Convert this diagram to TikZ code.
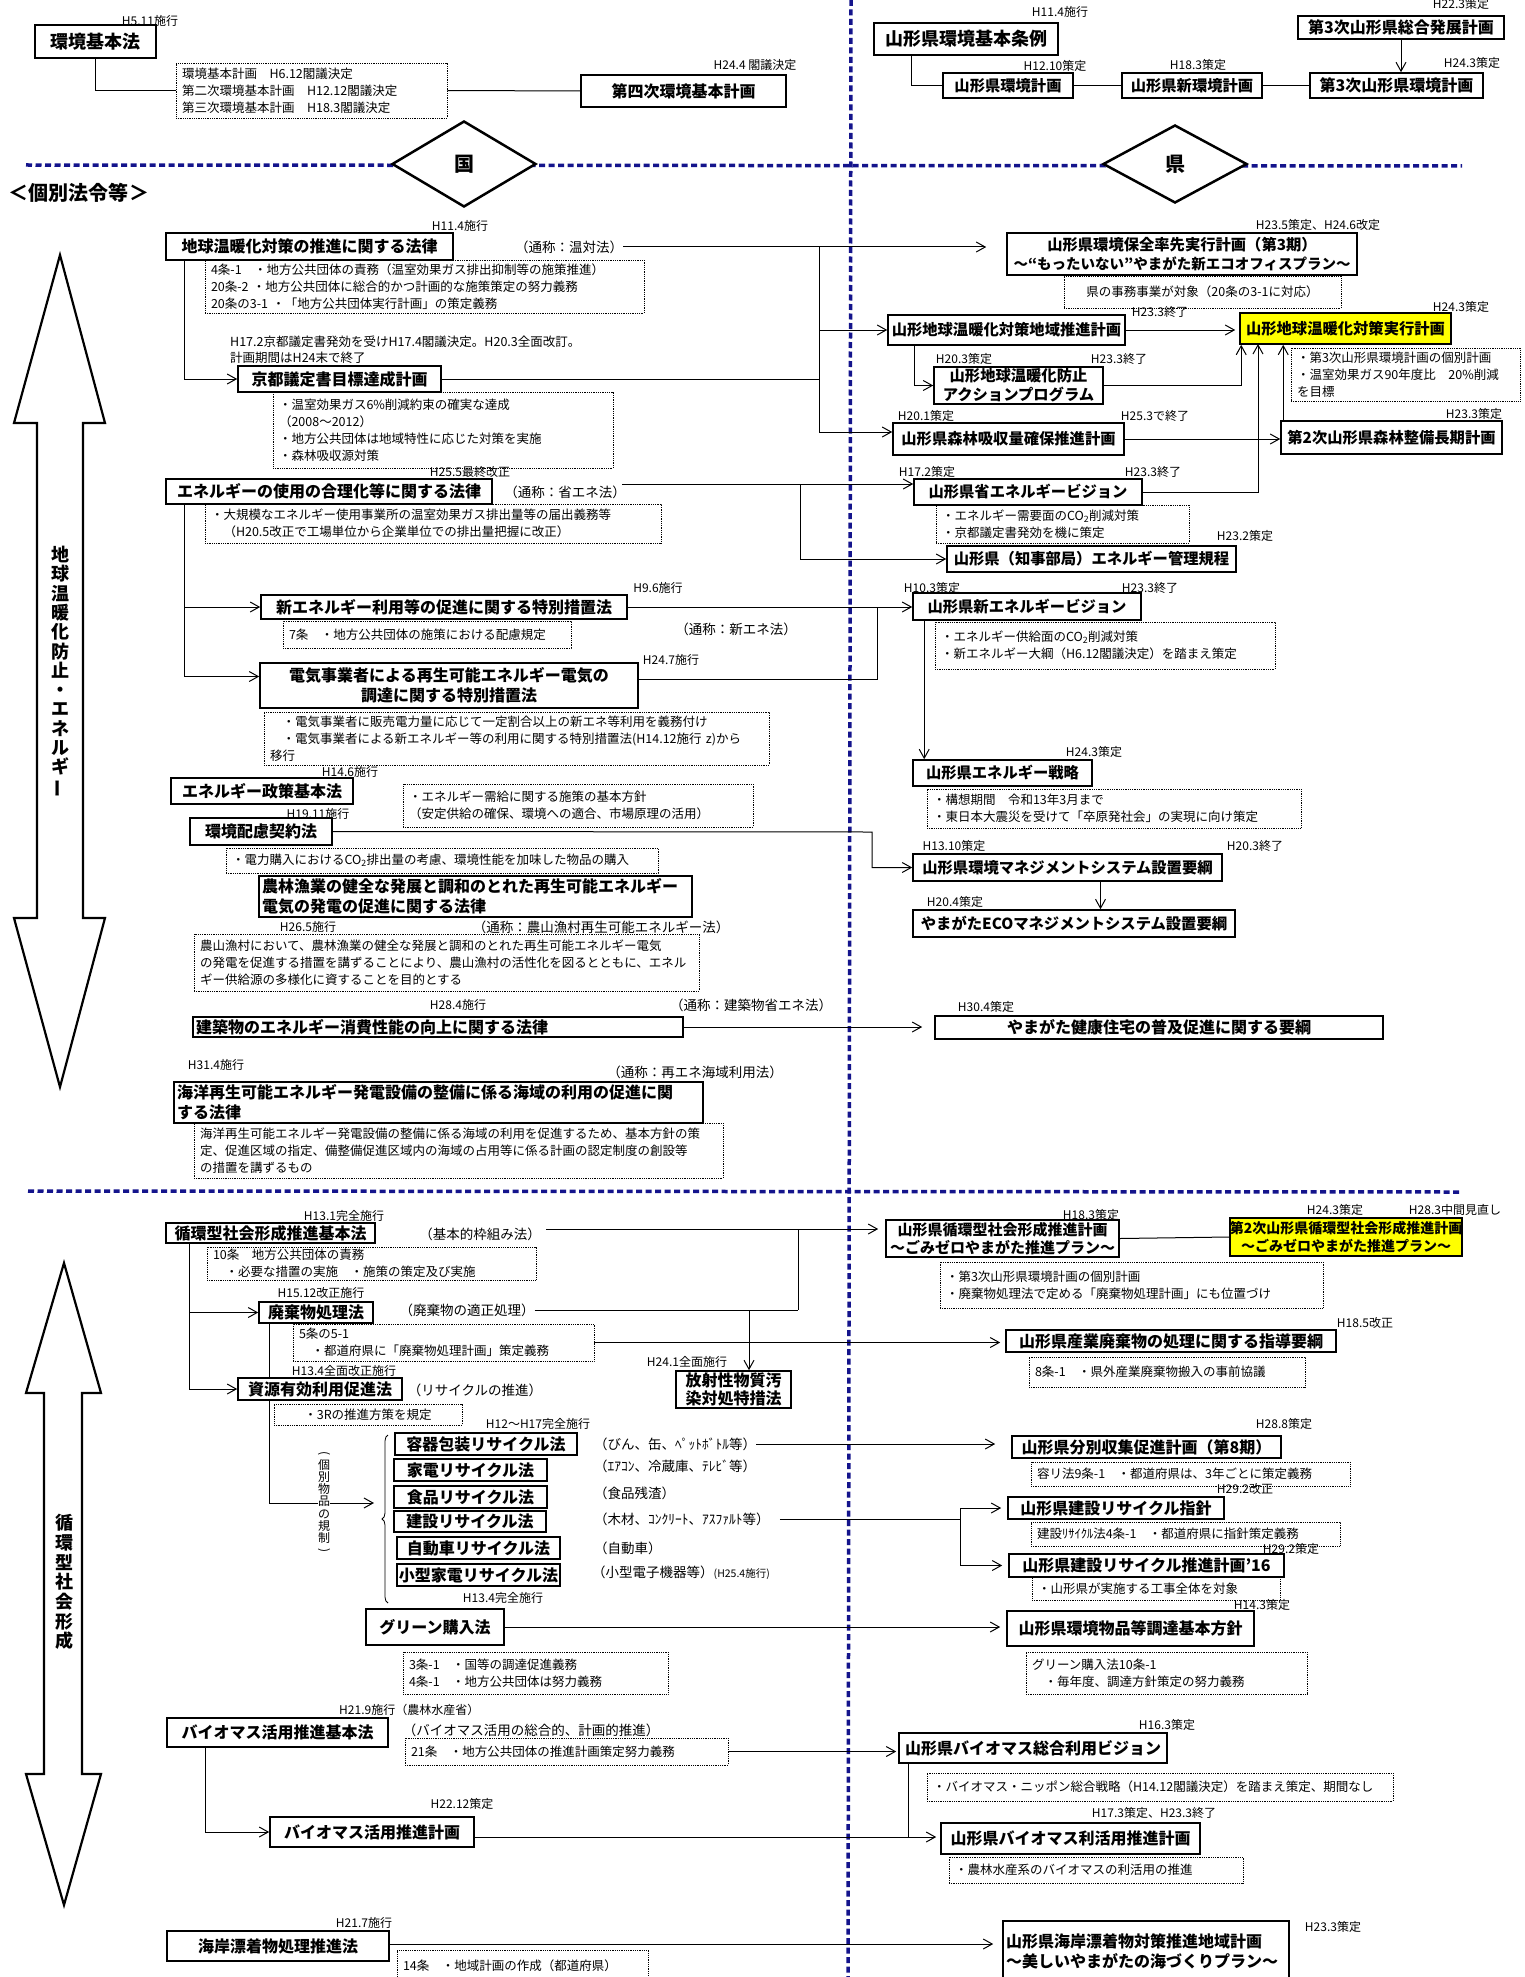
\documentclass[tikz,border=0pt]{standalone}
\usepackage{fontspec}
\usepackage{graphicx}
\setmainfont{Noto Sans CJK JP}
\usetikzlibrary{arrows.meta,shapes.geometric,decorations.pathreplacing}
\definecolor{navy}{RGB}{20,20,140}
\definecolor{yel}{RGB}{255,255,0}
\tikzset{
 box/.style={draw, line width=1.6pt, fill=white, inner sep=0pt, align=center, font=\bfseries\fontsize{16}{20}\selectfont},
 boxr/.style={font=\bfseries\fontsize{15.3}{19}\selectfont},
 notebox/.style={draw, densely dotted, line width=0.8pt, inner xsep=6pt, inner ysep=0pt, align=left, font=\fontsize{12.5}{17}\selectfont},
 lbl/.style={inner sep=0pt, font=\fontsize{12}{14}\selectfont},
 paren/.style={inner sep=0pt, font=\fontsize{13.5}{16}\selectfont},
 ln/.style={line width=1pt},
 arr/.style={line width=1pt, -{Straight Barb[length=9pt,width=10pt]}},
 bluesep/.style={navy, line width=3.5pt, dash pattern=on 6pt off 3.5pt},
 dia/.style={diamond, draw, line width=2.5pt, fill=white, inner sep=0pt, font=\bfseries\fontsize{20}{24}\selectfont},
 bigarrow/.style={draw, line width=2.2pt, fill=white, line join=miter},
 vtext/.style={inner sep=0pt, align=center, font=\bfseries\fontsize{18}{19.3}\selectfont},
}
\newcommand\mkbox[7][]{%
  \pgfmathsetmacro\bxw{#5-#3}\pgfmathsetmacro\bxh{#6-#4}%
  \pgfmathsetmacro\bxcx{(#3+#5)/2}\pgfmathsetmacro\bxcy{(#4+#6)/2}%
  \node[box,minimum width=\bxw pt,minimum height=\bxh pt,#1] (#2) at (\bxcx,\bxcy) {#7};}
\newcommand\mknote[7][]{%
  \pgfmathsetmacro\bxw{#5-#3}\pgfmathsetmacro\bxh{#6-#4}%
  \pgfmathsetmacro\bxcx{(#3+#5)/2}\pgfmathsetmacro\bxcy{(#4+#6)/2}%
  \pgfmathsetmacro\bxtw{#5-#3-12}%
  \node[notebox,text width=\bxtw pt,minimum width=\bxw pt,minimum height=\bxh pt,#1] (#2) at (\bxcx,\bxcy) {#7};}
\begin{document}
\begin{tikzpicture}[x=1pt,y=-1pt]
\useasboundingbox (0,0) rectangle (1524,1977);
\fill[white] (0,0) rectangle (1524,1977);

% separators
\draw[bluesep] (26,165) -- (1462,166);
\draw[bluesep] (28,1191) -- (1462,1192);
\draw[bluesep] (851,0) -- (848,1977);
\node[dia, minimum width=144pt, minimum height=86pt] (kuni) at (464,164) {国};
\node[dia, minimum width=144pt, minimum height=78pt] (ken) at (1175,164) {県};

% big double arrows
\draw[bigarrow] (60,255) -- (105,423) -- (83,423) -- (83,918) -- (105,918) -- (60,1087) -- (14,918) -- (37,918) -- (37,423) -- (14,423) -- cycle;
\draw[bigarrow] (64,1263) -- (101,1393) -- (82,1393) -- (82,1774) -- (101,1774) -- (64,1905) -- (26,1774) -- (44,1774) -- (44,1393) -- (26,1393) -- cycle;
\node[vtext] (vt1) at (60,672) {地\\球\\温\\暖\\化\\防\\止\\・\\エ\\ネ\\ル\\ギ\\\rotatebox[origin=c]{90}{ー}};
\node[vtext, font=\bfseries\fontsize{18}{19.7}\selectfont] (vt2) at (64,1582) {循\\環\\型\\社\\会\\形\\成};
\node[inner sep=0pt, font=\bfseries\fontsize{20}{24}\selectfont] (kobetsuhou) at (79,193) {＜個別法令等＞};

% ===== top =====
\node[lbl] (d1) at (150,21) {H5.11施行};
\mkbox[font=\bfseries\fontsize{18}{22}\selectfont]{kihonho}{35}{25}{156}{58}{環境基本法}
\mknote{kk}{176}{63}{447}{118}{環境基本計画　H6.12閣議決定\\第二次環境基本計画　H12.12閣議決定\\第三次環境基本計画　H18.3閣議決定}
\mkbox{dai4}{581}{75}{786}{107}{第四次環境基本計画}
\node[lbl] (d2) at (755,65) {H24.4 閣議決定};
\draw[ln] (kihonho) |- (kk.west);
\draw[ln] (kk.east) -- (dai4.west);

\node[lbl] (d3) at (1060,12) {H11.4施行};
\mkbox[font=\bfseries\fontsize{18}{22}\selectfont]{jourei}{874}{23}{1058}{55}{山形県環境基本条例}
\node[lbl] (d4) at (1055,66) {H12.10策定};
\mkbox[boxr]{kplan}{943}{73}{1073}{98}{山形県環境計画}
\node[lbl] (d5) at (1198,65) {H18.3策定};
\mkbox[boxr]{shinplan}{1122}{73}{1262}{98}{山形県新環境計画}
\mkbox{dai3plan}{1310}{73}{1483}{98}{第3次山形県環境計画}
\node[lbl] (d6) at (1472,63) {H24.3策定};
\mkbox{sougou}{1298}{16}{1504}{39}{第3次山形県総合発展計画}
\node[lbl] (d7) at (1461,4) {H22.3策定};
\draw[ln] ([xshift=-55pt]jourei.south) |- (kplan.west);
\draw[ln] (kplan) -- (shinplan);
\draw[ln] (shinplan) -- (dai3plan);
\draw[arr] (sougou.south) -- (sougou.south |- dai3plan.north);

% ===== warming: national =====
\node[lbl] (d8) at (460,226) {H11.4施行};
\mkbox{ontai}{166}{233}{453}{260}{地球温暖化対策の推進に関する法律}
\node[paren] (ontaiL) at (569,247) {（通称：温対法）};
\mknote{ontaiN}{205}{260}{644}{313}{4条-1　・地方公共団体の責務（温室効果ガス排出抑制等の施策推進）\\20条-2 ・地方公共団体に総合的かつ計画的な施策策定の努力義務\\20条の3-1 ・「地方公共団体実行計画」の策定義務}
\node[lbl, anchor=west, align=left, font=\fontsize{12.5}{16}\selectfont] (kyotoT) at (230,350) {H17.2京都議定書発効を受けH17.4閣議決定。H20.3全面改訂。\\計画期間はH24末で終了};
\mkbox{kyoto}{238}{366}{441}{392}{京都議定書目標達成計画}
\mknote{kyotoN}{273}{392}{613}{468}{・温室効果ガス6\%削減約束の確実な達成\\（2008～2012）\\・地方公共団体は地域特性に応じた対策を実施\\・森林吸収源対策}
\draw[arr] ([xshift=19pt]ontai.south west) |- (kyoto.west);

\node[lbl] (d9) at (470,472) {H25.5最終改正};
\mkbox{shoene}{166}{479}{492}{504}{エネルギーの使用の合理化等に関する法律}
\node[paren] (shoeneL) at (565,492) {（通称：省エネ法）};
\mknote{shoeneN}{205}{504}{661}{543}{・大規模なエネルギー使用事業所の温室効果ガス排出量等の届出義務等\\　（H20.5改正で工場単位から企業単位での排出量把握に改正）}

\node[lbl] (d10) at (658,588) {H9.6施行};
\mkbox{shinene}{261}{595}{627}{619}{新エネルギー利用等の促進に関する特別措置法}
\mknote{shineneN}{283}{621}{571}{648}{7条　・地方公共団体の施策における配慮規定}
\node[paren] (shineneL) at (736,629) {（通称：新エネ法）};
\node[lbl] (d11) at (671,660) {H24.7施行};
\mkbox{denki}{260}{663}{638}{708}{電気事業者による再生可能エネルギー電気の\\調達に関する特別措置法}
\mknote{denkiN}{264}{712}{769}{765}{　・電気事業者に販売電力量に応じて一定割合以上の新エネ等利用を義務付け\\　・電気事業者による新エネルギー等の利用に関する特別措置法(H14.12施行 z)から\\移行}
\coordinate (st) at ([xshift=19pt]shoene.south west);
\draw[arr] (st) |- (shinene.west);
\draw[arr] (st) |- ([yshift=9pt]denki.west);

\node[lbl] (d12) at (350,772) {H14.6施行};
\mkbox{eseisaku}{171}{778}{353}{804}{エネルギー政策基本法}
\mknote{eseisakuN}{403}{784}{753}{827}{・エネルギー需給に関する施策の基本方針\\（安定供給の確保、環境への適合、市場原理の活用）}
\node[lbl] (d13) at (318,814) {H19.11施行};
\mkbox{hairyo}{190}{818}{332}{845}{環境配慮契約法}
\mknote{hairyoN}{226}{848}{658}{873}{・電力購入におけるCO\textsubscript{2}排出量の考慮、環境性能を加味した物品の購入}
\mkbox[align=left,text width=427pt]{nourin}{259}{876}{692}{917}{農林漁業の健全な発展と調和のとれた再生可能エネルギー\\電気の発電の促進に関する法律}
\node[lbl] (d14) at (308,927) {H26.5施行};
\node[paren] (nourinL) at (601,927) {（通称：農山漁村再生可能エネルギー法）};
\mknote{nourinN}{194}{934}{699}{991}{農山漁村において、農林漁業の健全な発展と調和のとれた再生可能エネルギー電気\\の発電を促進する措置を講ずることにより、農山漁村の活性化を図るとともに、エネル\\ギー供給源の多様化に資することを目的とする}
\node[lbl] (d15) at (458,1005) {H28.4施行};
\node[paren] (kenchikuL) at (751,1005) {（通称：建築物省エネ法）};
\mkbox[align=left,text width=484pt]{kenchiku}{193}{1017}{683}{1037}{建築物のエネルギー消費性能の向上に関する法律}
\node[lbl] (d16) at (216,1065) {H31.4施行};
\node[paren] (kaiyoL) at (695,1072) {（通称：再エネ海域利用法）};
\mkbox[align=left,text width=523pt]{kaiyo}{174}{1082}{703}{1123}{海洋再生可能エネルギー発電設備の整備に係る海域の利用の促進に関\\する法律}
\mknote[inner xsep=3pt]{kaiyoN}{194}{1123}{723}{1178}{海洋再生可能エネルギー発電設備の整備に係る海域の利用を促進するため、基本方針の策\\定、促進区域の指定、備整備促進区域内の海域の占用等に係る計画の認定制度の創設等\\の措置を講ずるもの}

% ===== warming: prefecture =====
\node[lbl] (d17) at (1318,225) {H23.5策定、H24.6改定};
\mkbox[boxr]{sossen}{1007}{233}{1357}{275}{山形県環境保全率先実行計画（第3期）\\{\fontsize{14.5}{18}\selectfont ～“もったいない”やまがた新エコオフィスプラン～}}
\mknote[align=center]{sossenN}{1064}{276}{1341}{308}{県の事務事業が対象（20条の3-1に対応）}
\draw[arr,shorten >=20pt] (ontaiL.east) -- (ontaiL.east -| sossen.west);
\coordinate (t1) at (819,247);
\coordinate (t2) at (819,432);
\draw[ln] (t1) -- (t2);
\draw[ln] (kyoto.east) -- (kyoto.east -| t1);
\node[lbl] (d18) at (1160,312) {H23.3終了};
\mkbox[boxr]{chiiki}{888}{315}{1125}{345}{山形地球温暖化対策地域推進計画}
\draw[arr] (t1 |- chiiki.west) -- (chiiki.west);
\node[lbl] (d19) at (1461,307) {H24.3策定};
\mkbox[boxr,fill=yel]{jikko}{1240}{313}{1451}{344}{山形地球温暖化対策実行計画}
\draw[arr,shorten >=4pt] (chiiki.east) -- (chiiki.east -| jikko.west);
\mknote{jikkoN}{1291}{348}{1520}{401}{・第3次山形県環境計画の個別計画\\・温室効果ガス90年度比　20\%削減\\を目標}
\node[lbl] (d20) at (964,359) {H20.3策定};
\node[lbl] (d21) at (1119,359) {H23.3終了};
\mkbox[boxr]{action}{934}{367}{1103}{404}{山形地球温暖化防止\\アクションプログラム}
\draw[arr] ([xshift=27pt]chiiki.south west) |- (action.west);
\draw[arr] (action.east) -| ([xshift=2pt]jikko.south west);
\node[lbl] (d22) at (926,416) {H20.1策定};
\node[lbl] (d23) at (1155,416) {H25.3で終了};
\mkbox[boxr]{shinrin}{893}{423}{1124}{455}{山形県森林吸収量確保推進計画}
\draw[arr] (t2) -- (t2 -| shinrin.west);
\node[lbl] (d24) at (1474,414) {H23.3策定};
\mkbox[boxr]{seibi}{1281}{421}{1502}{454}{第2次山形県森林整備長期計画}
\draw[arr] (shinrin.east) -- (shinrin.east -| seibi.west);
\coordinate (sb) at ([xshift=3pt]seibi.north west);
\draw[arr] (sb) -- (sb |- jikko.south);

\node[lbl] (d25) at (927,472) {H17.2策定};
\node[lbl] (d26) at (1153,472) {H23.3終了};
\mkbox[boxr]{sev}{914}{479}{1142}{505}{山形県省エネルギービジョン}
\mknote{sevN}{936}{505}{1189}{543}{・エネルギー需要面のCO\textsubscript{2}削減対策\\・京都議定書発効を機に策定}
\coordinate (sv) at (1258,344);
\draw[arr] (sev.east) -| (sv);
\node[lbl] (d27) at (1245,536) {H23.2策定};
\mkbox[boxr]{kanri}{947}{546}{1236}{572}{山形県（知事部局）エネルギー管理規程}
\coordinate (s1) at (622,484);
\coordinate (s2) at (800,484);
\draw[arr] (s1) -- (s1 -| sev.west);
\draw[arr] (s2) |- (kanri.west);

\node[lbl] (d28) at (932,588) {H10.3策定};
\node[lbl] (d29) at (1150,588) {H23.3終了};
\mkbox[boxr]{snv}{913}{593}{1141}{620}{山形県新エネルギービジョン}
\mknote{snvN}{935}{622}{1275}{669}{・エネルギー供給面のCO\textsubscript{2}削減対策\\・新エネルギー大綱（H6.12閣議決定）を踏まえ策定}
\draw[arr] (shinene.east) -- (shinene.east -| snv.west);
\coordinate (dj) at (877,607);
\draw[ln] ([yshift=6pt]denki.east) -| (dj);
\node[lbl] (d30) at (1094,752) {H24.3策定};
\mkbox[boxr]{senryaku}{913}{760}{1092}{786}{山形県エネルギー戦略}
\mknote{senryakuN}{927}{789}{1301}{828}{・構想期間　令和13年3月まで\\・東日本大震災を受けて「卒原発社会」の実現に向け策定}
\coordinate (sn) at ([xshift=12pt]snv.south west);
\draw[arr] (sn) -- (sn |- senryaku.north);
\coordinate (hj) at (872,832);
\node[lbl] (d31) at (954,846) {H13.10策定};
\node[lbl] (d32) at (1255,846) {H20.3終了};
\mkbox[boxr]{ems}{913}{854}{1222}{881}{山形県環境マネジメントシステム設置要綱}
\draw[arr] (hairyo.east) -- (hj) |- (ems.west);
\node[lbl] (d33) at (955,902) {H20.4策定};
\mkbox[boxr]{eco}{913}{910}{1235}{937}{やまがたECOマネジメントシステム設置要綱}
\coordinate (em) at ([xshift=33pt]ems.south);
\draw[arr] (em) -- (em |- eco.north);
\node[lbl] (d34) at (986,1007) {H30.4策定};
\mkbox{kenko}{935}{1016}{1383}{1039}{やまがた健康住宅の普及促進に関する要綱}
\draw[arr,shorten >=12pt] (kenchiku.east) -- (kenchiku.east -| kenko.west);

% ===== junkan =====
\node[lbl] (d35) at (344,1216) {H13.1完全施行};
\mkbox{junkan}{166}{1223}{375}{1243}{循環型社会形成推進基本法}
\node[paren] (junkanL) at (480,1234) {（基本的枠組み法）};
\mknote{junkanN}{207}{1247}{536}{1280}{10条　地方公共団体の責務\\　・必要な措置の実施　・施策の策定及び実施}
\node[lbl] (d36) at (1091,1215) {H18.3策定};
\mkbox[font=\bfseries\fontsize{15}{18.5}\selectfont]{jplan}{886}{1220}{1119}{1257}{山形県循環型社会形成推進計画\\～ごみゼロやまがた推進プラン～}
\node[lbl] (d37) at (1335,1210) {H24.3策定};
\node[lbl] (d38) at (1455,1210) {H28.3中間見直し};
\mkbox[fill=yel,font=\bfseries\fontsize{14}{18}\selectfont]{jplan2}{1230}{1218}{1462}{1256}{第2次山形県循環型社会形成推進計画\\～ごみゼロやまがた推進プラン～}
\draw[ln] (jplan.east) -- (jplan2.west);
\mknote{jplanN}{940}{1262}{1323}{1308}{・第3次山形県環境計画の個別計画\\・廃棄物処理法で定める「廃棄物処理計画」にも位置づけ}
\coordinate (j1) at (546,1229);
\coordinate (j2) at (798,1229);
\coordinate (j3) at (798,1310);
\coordinate (j4) at (749,1310);
\draw[arr,shorten >=7pt] (j1) -- (j1 -| jplan.west);

\node[lbl] (d39) at (321,1293) {H15.12改正施行};
\mkbox{haiki}{259}{1302}{373}{1323}{廃棄物処理法}
\node[paren] (haikiL) at (467,1310) {（廃棄物の適正処理）};
\mknote{haikiN}{293}{1324}{594}{1361}{5条の5-1\\　・都道府県に「廃棄物処理計画」策定義務}
\draw[ln] (j2) -- (j3);
\draw[ln] (haikiL.east) -- (j3);
\node[lbl] (d40) at (1365,1323) {H18.5改正};
\mkbox{sanpai}{1006}{1330}{1336}{1352}{山形県産業廃棄物の処理に関する指導要綱}
\draw[arr,shorten >=5pt] (haikiN.east) -- (haikiN.east -| sanpai.west);
\mknote{sanpaiN}{1029}{1357}{1305}{1387}{8条-1　・県外産業廃棄物搬入の事前協議}
\node[lbl] (d41) at (687,1362) {H24.1全面施行};
\mkbox[font=\bfseries\fontsize{16}{18}\selectfont]{housha}{676}{1371}{791}{1408}{放射性物質汚\\染対処特措法}
\draw[arr] (j4) -- (j4 |- housha.north);

\node[inner sep=0pt, align=center, font=\fontsize{12}{12.2}\selectfont] (kobetsu) at (324,1503) {\rotatebox[origin=c]{-90}{(}\\個\\別\\物\\品\\の\\規\\制\\\rotatebox[origin=c]{-90}{)}};
\coordinate (k1) at ([xshift=11pt]haiki.south west);
\draw[ln] (k1) |- (kobetsu.west);
\coordinate (bt) at (374,1503);
\draw[arr] (kobetsu.east) -- (bt);

\node[lbl] (d42) at (344,1371) {H13.4全面改正施行};
\mkbox{shigen}{238}{1378}{402}{1400}{資源有効利用促進法}
\node[paren] (shigenL) at (475,1390) {（リサイクルの推進）};
\mknote[align=center]{shigenN}{274}{1404}{462}{1425}{・3Rの推進方策を規定}
\coordinate (h1) at ([xshift=24pt]junkan.south west);
\draw[ln] (h1) -- (h1 |- shigen.west);
\draw[arr] (h1 |- haiki.west) -- (haiki.west);
\draw[arr] (h1 |- shigen.west) -- (shigen.west);

\node[lbl] (d43) at (538,1424) {H12～H17完全施行};
\draw[decorate, decoration={brace, amplitude=6pt}, line width=0.8pt] (388,1603) -- (388,1435);
\mkbox{youki}{395}{1433}{577}{1455}{容器包装リサイクル法}
\mkbox{kaden}{394}{1459}{547}{1481}{家電リサイクル法}
\mkbox{shokuhin}{394}{1486}{547}{1508}{食品リサイクル法}
\mkbox{kensetsu}{394}{1511}{546}{1532}{建設リサイクル法}
\mkbox{jidosha}{397}{1537}{560}{1559}{自動車リサイクル法}
\mkbox{kogata}{397}{1564}{560}{1586}{小型家電リサイクル法}
\node[paren,anchor=west] (youkiL) at (594,1444) {（びん、缶、ﾍﾟｯﾄﾎﾞﾄﾙ等）};
\node[paren,anchor=west] (kadenL) at (594,1466) {（ｴｱｺﾝ、冷蔵庫、ﾃﾚﾋﾞ等）};
\node[paren,anchor=west] (shokuhinL) at (594,1493) {（食品残渣）};
\node[paren,anchor=west] (kensetsuL) at (594,1519) {（木材、ｺﾝｸﾘｰﾄ、ｱｽﾌｧﾙﾄ等）};
\node[paren,anchor=west] (jidoshaL) at (594,1548) {（自動車）};
\node[paren,anchor=west] (kogataL) at (592,1573) {（小型電子機器等）{\fontsize{10.5}{12}\selectfont (H25.4施行)}};

\node[lbl] (d45) at (1284,1424) {H28.8策定};
\mkbox{bunbetsu}{1012}{1436}{1281}{1458}{山形県分別収集促進計画（第8期）}
\mknote{bunbetsuN}{1031}{1462}{1350}{1486}{容リ法9条-1　・都道府県は、3年ごとに策定義務}
\node[lbl] (d46) at (1245,1489) {H29.2改正};
\mkbox{shishin}{1008}{1497}{1224}{1519}{山形県建設リサイクル指針}
\mknote{shishinN}{1031}{1522}{1340}{1546}{建設ﾘｻｲｸﾙ法4条-1　・都道府県に指針策定義務}
\node[lbl] (d47) at (1291,1549) {H29.2策定};
\mkbox{suishin}{1009}{1554}{1284}{1577}{山形県建設リサイクル推進計画’16}
\mknote{suishinN}{1032}{1577}{1280}{1600}{・山形県が実施する工事全体を対象}
\draw[arr,shorten >=16pt] (youkiL.east) -- (youkiL.east -| bunbetsu.west);
\coordinate (kb) at (960,1519);
\draw[ln,shorten <=10pt] (kensetsuL.east) -- (kb);
\draw[arr,shorten >=6pt] (kb) |- (shishin.west);
\draw[arr,shorten >=6pt] (kb) |- (suishin.west);

\node[lbl] (d44) at (503,1598) {H13.4完全施行};
\mkbox{green}{366}{1609}{504}{1645}{グリーン購入法}
\mknote{greenN}{403}{1652}{668}{1694}{3条-1　・国等の調達促進義務\\4条-1　・地方公共団体は努力義務}
\node[lbl] (d48) at (1262,1605) {H14.3策定};
\mkbox{kihon}{1007}{1611}{1254}{1646}{山形県環境物品等調達基本方針}
\mknote{kihonN}{1026}{1652}{1307}{1694}{グリーン購入法10条-1\\　・毎年度、調達方針策定の努力義務}
\draw[arr,shorten >=6pt] (green.east) -- (green.east -| kihon.west);

% ===== biomass =====
\node[lbl,anchor=west] (d49) at (339,1710) {H21.9施行（農林水産省）};
\mkbox{bio}{167}{1718}{388}{1747}{バイオマス活用推進基本法}
\node[paren] (bioL) at (531,1730) {（バイオマス活用の総合的、計画的推進）};
\mknote{bioN}{405}{1738}{728}{1765}{21条　・地方公共団体の推進計画策定努力義務}
\node[lbl] (d50) at (462,1804) {H22.12策定};
\mkbox{bplan}{270}{1817}{474}{1847}{バイオマス活用推進計画}
\draw[arr] ([xshift=39pt]bio.south west) |- (bplan.west);
\node[lbl] (d51) at (1167,1725) {H16.3策定};
\mkbox{bvision}{899}{1733}{1167}{1763}{山形県バイオマス総合利用ビジョン}
\draw[arr,shorten >=2pt] (bioN.east) -- (bioN.east -| bvision.west);
\mknote{bvisionN}{927}{1773}{1393}{1801}{・バイオマス・ニッポン総合戦略（H14.12閣議決定）を踏まえ策定、期間なし}
\node[lbl] (d52) at (1154,1813) {H17.3策定、H23.3終了};
\mkbox{rikatsu}{941}{1823}{1200}{1854}{山形県バイオマス利活用推進計画}
\mknote{rikatsuN}{949}{1857}{1243}{1883}{・農林水産系のバイオマスの利活用の推進}
\coordinate (bp) at ([yshift=-5pt]bplan.east);
\draw[arr,shorten >=4pt] (bp) -- (bp -| rikatsu.west);
\coordinate (bv) at ([xshift=10pt]bvision.south west);
\draw[ln] (bv) -- (bv |- bp);

\node[lbl] (d53) at (364,1923) {H21.7施行};
\mkbox{kaigan}{167}{1931}{389}{1961}{海岸漂着物処理推進法}
\mknote{kaiganN}{397}{1950}{648}{1982}{14条　・地域計画の作成（都道府県）}
\mkbox[align=left,text width=280pt]{kaiganP}{1003}{1921}{1289}{1982}{山形県海岸漂着物対策推進地域計画\\～美しいやまがたの海づくりプラン～}
\node[lbl] (d54) at (1333,1927) {H23.3策定};
\coordinate (kg) at ([yshift=2pt]kaigan.east);
\draw[arr,shorten >=9pt] (kg) -- (kg -| kaiganP.west);
\end{tikzpicture}
\end{document}
